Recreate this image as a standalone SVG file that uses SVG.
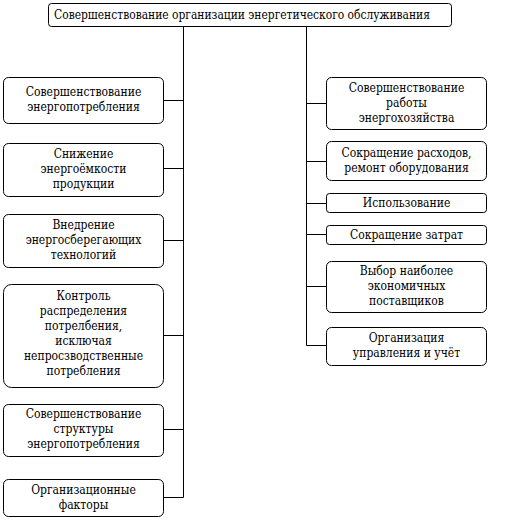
<svg xmlns="http://www.w3.org/2000/svg" width="513" height="532" viewBox="0 0 513 532">
<style>
rect{fill:#fff;stroke:#000;stroke-width:1}
line{stroke:#000;stroke-width:1}
</style>
<rect width="513" height="532" style="stroke:none"/>
<g id="connectors">
<line x1="183.5" y1="26.5" x2="183.5" y2="497.5"/>
<line x1="306.5" y1="26.5" x2="306.5" y2="345.5"/>
<line x1="163.5" y1="100.5" x2="183.5" y2="100.5"/>
<line x1="163.5" y1="168.5" x2="183.5" y2="168.5"/>
<line x1="163.5" y1="240.5" x2="183.5" y2="240.5"/>
<line x1="163.5" y1="335.5" x2="183.5" y2="335.5"/>
<line x1="163.5" y1="429.5" x2="183.5" y2="429.5"/>
<line x1="163.5" y1="497.5" x2="183.5" y2="497.5"/>
<line x1="306.5" y1="103.5" x2="326.5" y2="103.5"/>
<line x1="306.5" y1="161.5" x2="326.5" y2="161.5"/>
<line x1="306.5" y1="203.5" x2="326.5" y2="203.5"/>
<line x1="306.5" y1="234.5" x2="326.5" y2="234.5"/>
<line x1="306.5" y1="286.5" x2="326.5" y2="286.5"/>
<line x1="306.5" y1="345.5" x2="326.5" y2="345.5"/>
</g>
<g font-family="DejaVu Serif Condensed, DejaVu Serif, serif" font-stretch="condensed" font-size="12" fill="#000" text-anchor="middle">
<g id="root">
<rect x="48.5" y="3.5" width="403" height="23" rx="3"/>
<text x="54" y="19" text-anchor="start" textLength="376" lengthAdjust="spacingAndGlyphs">Совершенствование организации энергетического обслуживания</text>
</g>
<g id="l1">
<rect x="3.5" y="77.5" width="160" height="46" rx="5"/>
<text x="83.5" y="96">Совершенствование</text>
<text x="83.5" y="111">энергопотребления</text>
</g>
<g id="l2">
<rect x="3.5" y="143.5" width="160" height="53" rx="5"/>
<text x="83.5" y="157.5">Снижение</text>
<text x="83.5" y="172.5">энергоёмкости</text>
<text x="83.5" y="187.5">продукции</text>
</g>
<g id="l3">
<rect x="3.5" y="214.5" width="160" height="53" rx="5"/>
<text x="83.5" y="228.5">Внедрение</text>
<text x="83.5" y="243.5">энергосберегающих</text>
<text x="83.5" y="258.5">технологий</text>
</g>
<g id="l4">
<rect x="3.5" y="284.5" width="160" height="103" rx="8"/>
<text x="83.5" y="300">Контроль</text>
<text x="83.5" y="315">распределения</text>
<text x="83.5" y="330">потрелбения,</text>
<text x="83.5" y="345">исключая</text>
<text x="83.5" y="360">непросзводственные</text>
<text x="83.5" y="375">потребления</text>
</g>
<g id="l5">
<rect x="3.5" y="404.5" width="160" height="52" rx="5"/>
<text x="83.5" y="418">Совершенствование</text>
<text x="83.5" y="433">структуры</text>
<text x="83.5" y="448">энергопотребления</text>
</g>
<g id="l6">
<rect x="3.5" y="479.5" width="160" height="37" rx="5"/>
<text x="83.5" y="494">Организационные</text>
<text x="83.5" y="509">факторы</text>
</g>
<g id="r1">
<rect x="326.5" y="77.5" width="160" height="52" rx="5"/>
<text x="406.5" y="92">Совершенствование</text>
<text x="406.5" y="107">работы</text>
<text x="406.5" y="122">энергохозяйства</text>
</g>
<g id="r2">
<rect x="326.5" y="141.5" width="160" height="39" rx="5"/>
<text x="406.5" y="157">Сокращение расходов,</text>
<text x="406.5" y="172">ремонт оборудования</text>
</g>
<g id="r3">
<rect x="326.5" y="193.5" width="160" height="19" rx="3"/>
<text x="406.5" y="207">Использование</text>
</g>
<g id="r4">
<rect x="326.5" y="225.5" width="160" height="19" rx="3"/>
<text x="406.5" y="239">Сокращение затрат</text>
</g>
<g id="r5">
<rect x="326.5" y="261.5" width="160" height="51" rx="5"/>
<text x="406.5" y="275">Выбор наиболее</text>
<text x="406.5" y="290">экономичных</text>
<text x="406.5" y="305">поставщиков</text>
</g>
<g id="r6">
<rect x="326.5" y="327.5" width="160" height="38" rx="5"/>
<text x="406.5" y="342">Организация</text>
<text x="406.5" y="357">управления и учёт</text>
</g>
</g>
</svg>
